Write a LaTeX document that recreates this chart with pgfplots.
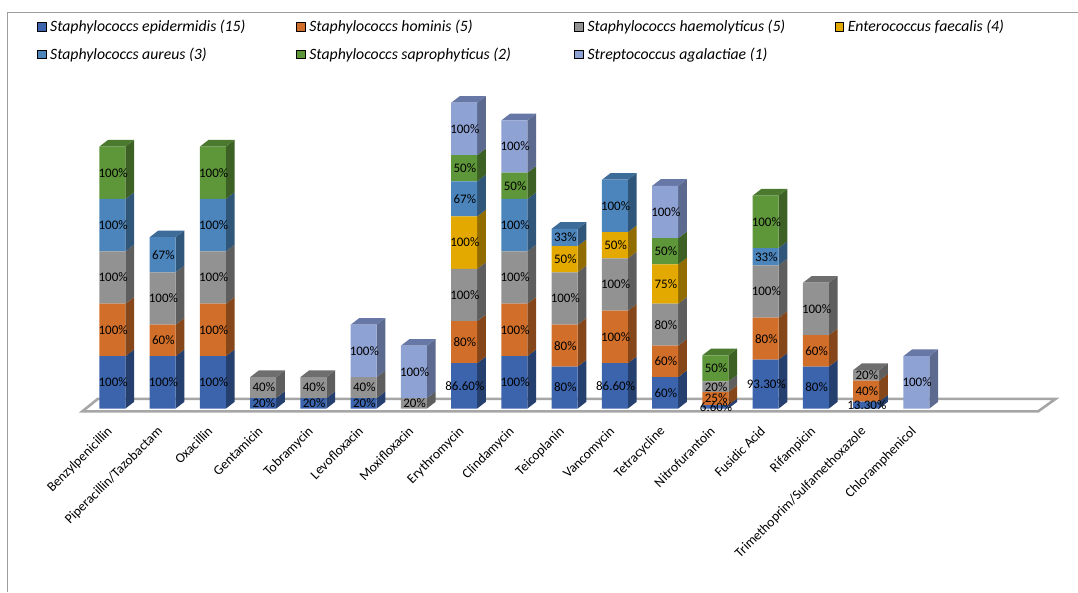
\documentclass[border=0pt]{standalone}
\usepackage{fontspec}
\setmainfont{Carlito}
\usepackage{pgfplots}
\usepackage{pgfplotstable}
\pgfplotsset{compat=1.18}

% Share of isolates resistant to each antibiotic, per species (percent)
\pgfplotstableread[col sep=comma]{
idx,drug,epi,hom,hae,ent,aur,sap,str
0,Benzylpenicillin,100,100,100,0,100,100,0
1,Piperacillin/Tazobactam,100,60,100,0,67,0,0
2,Oxacillin,100,100,100,0,100,100,0
3,Gentamicin,20,0,40,0,0,0,0
4,Tobramycin,20,0,40,0,0,0,0
5,Levofloxacin,20,0,40,0,0,0,100
6,Moxifloxacin,0,0,20,0,0,0,100
7,Erythromycin,86.6,80,100,100,67,50,100
8,Clindamycin,100,100,100,0,100,50,100
9,Teicoplanin,80,80,100,50,33,0,0
10,Vancomycin,86.6,100,100,50,100,0,0
11,Tetracycline,60,60,80,75,0,50,100
12,Nitrofurantoin,6.6,25,20,0,0,50,0
13,Fusidic Acid,93.3,80,100,0,33,100,0
14,Rifampicin,80,60,100,0,0,0,0
15,Trimethoprim/Sulfamethoxazole,13.3,40,20,0,0,0,0
16,Chloramphenicol,0,0,0,0,0,0,100
}\tbl

% Front, side and top shades of each species
\definecolor{front-epi}{HTML}{3B64AD}\definecolor{side-epi}{HTML}{253F6F}\definecolor{top-epi}{HTML}{2E4F8A}
\definecolor{front-hom}{HTML}{D16F2A}\definecolor{side-hom}{HTML}{854619}\definecolor{top-hom}{HTML}{A65822}
\definecolor{front-hae}{HTML}{929292}\definecolor{side-hae}{HTML}{5E5E5E}\definecolor{top-hae}{HTML}{6E6E6E}
\definecolor{front-ent}{HTML}{E3A900}\definecolor{side-ent}{HTML}{916C00}\definecolor{top-ent}{HTML}{B38500}
\definecolor{front-aur}{HTML}{4C85BC}\definecolor{side-aur}{HTML}{30577A}\definecolor{top-aur}{HTML}{3E6C99}
\definecolor{front-sap}{HTML}{5E963A}\definecolor{side-sap}{HTML}{3D6125}\definecolor{top-sap}{HTML}{4B7A2F}
\definecolor{front-str}{HTML}{8FA2D4}\definecolor{side-str}{HTML}{5C6A8F}\definecolor{top-str}{HTML}{6878A6}

% One x unit is one bar pitch (50.25 pt); one percent is 0.524 pt
\pgfplotsset{canvas/.style={
  scale only axis, width=1078pt, height=592pt,
  xmin=-2.2388, xmax=19.214, ymin=-350.2, ymax=779.6,
}}
\def\halfbar{0.2587}
\def\depthx{0.170}
\def\depthy{12.6}
\def\species{epi,hom,hae,ent,aur,sap,str}

\begin{document}
\begin{tikzpicture}
% Floor, frame, and the side and top faces of the columns
\begin{axis}[canvas, hide axis]
  \draw[color=black!38, line width=1pt] (axis cs:-2.08,-350.2) -- (axis cs:-2.08,755.5) -- (axis cs:19.214,755.5);
  \addplot[draw=black!35, line width=2.6pt, fill=white, line join=miter, forget plot]
    coordinates {(-0.60,-5.5) (18.42,-5.5) (18.77,18.5) (-0.29,18.5) (-0.60,-5.5) (18.42,-5.5)};
  \foreach \row in {0,...,16}{
    \gdef\cum{0}\gdef\lastser{}
    \foreach \ser in \species {
      \pgfplotstablegetelem{\row}{\ser}\of\tbl
      \let\val\pgfplotsretval
      \ifdim\val pt>0pt
        \pgfmathsetmacro\xa{\row+\halfbar}
        \pgfmathsetmacro\xb{\row+\halfbar+\depthx}
        \pgfmathsetmacro\ya{\cum}
        \pgfmathsetmacro\yb{\cum+\val}
        \pgfmathsetmacro\yc{\cum+\depthy}
        \pgfmathsetmacro\yd{\cum+\val+\depthy}
        \edef\tmp{\noexpand\addplot[fill=side-\ser, draw=none, forget plot]
          coordinates {(\xa,\ya) (\xb,\yc) (\xb,\yd) (\xa,\yb)};}
        \tmp
        \xdef\cum{\yb}
        \xdef\lastser{\ser}
      \fi
    }
    \pgfmathsetmacro\xa{\row-\halfbar}
    \pgfmathsetmacro\xb{\row-\halfbar+\depthx}
    \pgfmathsetmacro\xc{\row+\halfbar}
    \pgfmathsetmacro\xd{\row+\halfbar+\depthx}
    \pgfmathsetmacro\yd{\cum+\depthy}
    \edef\tmp{\noexpand\addplot[fill=top-\lastser, draw=none, forget plot]
      coordinates {(\xa,\cum) (\xb,\yd) (\xd,\yd) (\xc,\cum)};}
    \tmp
  }
\end{axis}

% Front faces, drug names and legend
\begin{axis}[canvas,
  ybar stacked, bar width=0.5174,
  axis x line=middle, axis y line=none, axis line style={draw=none},
  hide obscured x ticks=false,
  xtick={0,...,16}, xticklabels from table={\tbl}{drug},
  major tick length=0pt,
  xticklabel style={rotate=45, anchor=north east, font=\fontsize{13.6}{15}\selectfont,
    inner sep=0pt, yshift=-7.2pt, xshift=-16.3pt},
  legend columns=4,
  legend image code/.code={\fill[#1] (0pt,-4.4pt) rectangle (8.8pt,4.4pt);},
  legend cell align=left,
  legend style={at={(axis description cs:0.0343,0.966)}, anchor=north west, draw=none, fill=none,
    inner sep=0pt, outer sep=0pt, font=\fontsize{15.75}{17}\selectfont\itshape,
    /tikz/every even column/.style={column sep=0pt},
    /tikz/nodes={inner xsep=4pt, inner ysep=0pt},
    row sep=14.5pt},
]
  \foreach \ser in \species {
    \edef\tmp{\noexpand\addplot[fill=front-\ser, draw=none, forget plot]
      table[x=idx, y=\ser] {\noexpand\tbl};}
    \tmp
  }
  \addlegendimage{fill=front-epi}\addlegendentry{\makebox[242pt][l]{Staphylococcs epidermidis (15)}}
  \addlegendimage{fill=front-hom}\addlegendentry{\makebox[261pt][l]{Staphylococcs hominis (5)}}
  \addlegendimage{fill=front-hae}\addlegendentry{\makebox[243pt][l]{Staphylococcs haemolyticus (5)}}
  \addlegendimage{fill=front-ent}\addlegendentry{Enterococcus faecalis (4)}
  \addlegendimage{fill=front-aur}\addlegendentry{Staphylococcs aureus (3)}
  \addlegendimage{fill=front-sap}\addlegendentry{Staphylococcs saprophyticus (2)}
  \addlegendimage{fill=front-str}\addlegendentry{Streptococcus agalactiae (1)}
\end{axis}

% Percentages at the middle of every segment, on top of all faces
\begin{axis}[canvas, hide axis]
  \foreach \row in {0,...,16}{
    \gdef\cum{0}
    \foreach \ser in \species {
      \pgfplotstablegetelem{\row}{\ser}\of\tbl
      \let\val\pgfplotsretval
      \ifdim\val pt>0pt
        \pgfmathsetmacro\ymid{\cum+\val/2}
        \pgfmathsetmacro\ytop{\cum+\val}
        \xdef\cum{\ytop}
        \pgfmathtruncatemacro\whole{\val}
        \ifdim\whole pt=\val pt
          \edef\shown{\whole}
        \else
          \pgfmathprintnumberto[fixed, precision=2, fixed zerofill, assume math mode=true]{\val}{\shown}
        \fi
        \edef\tmp{\noexpand\addplot[only marks, mark=none, forget plot,
            point meta=explicit symbolic,
            nodes near coords=\noexpand\pgfplotspointmeta\noexpand\%,
            nodes near coords style={anchor=center, inner sep=0pt, xshift=0.6pt,
              font=\noexpand\fontsize{13}{15}\noexpand\selectfont, text=black}]
          coordinates {(\row,\ymid) [\shown]};}
        \tmp
      \fi
    }
  }
\end{axis}
\pgfresetboundingbox
\useasboundingbox (0,0) rectangle (1078pt,592pt);
\end{tikzpicture}
\end{document}
